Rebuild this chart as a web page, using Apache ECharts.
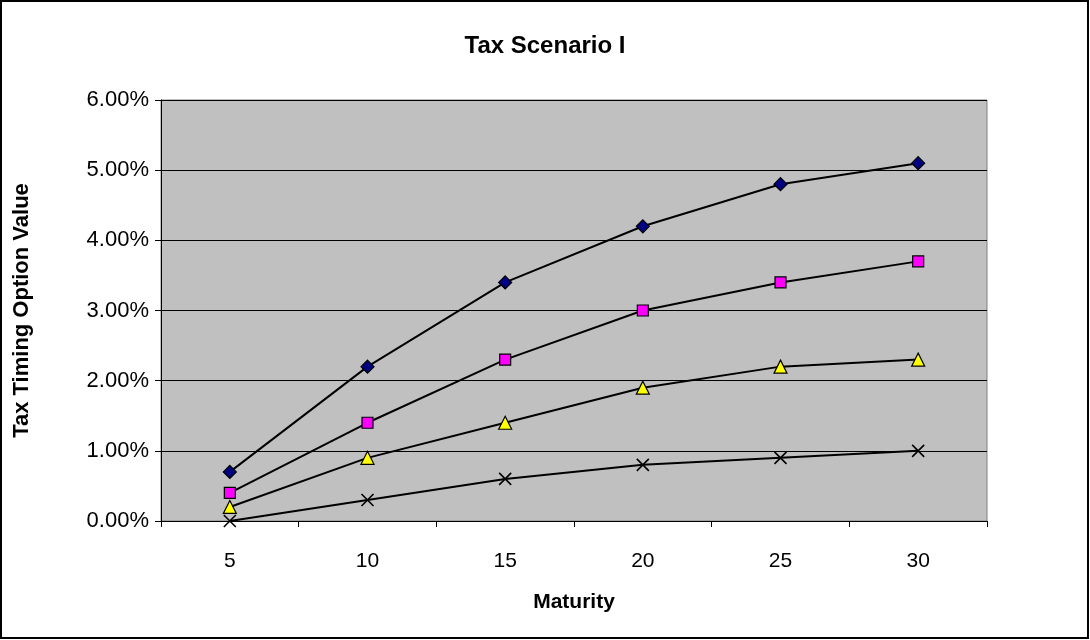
<!DOCTYPE html>
<html lang="en">
<head>
    <meta charset="UTF-8">
    <title>Tax Scenario I</title>
    <script src="https://cdn.jsdelivr.net/npm/echarts/dist/echarts.min.js"></script>
    <style>
        body { margin: 0; background: #fff; }
        #chart { width: 1090px; height: 640px; }
    </style>
</head>
<body>
    <div id="chart"></div>
    <script>
        // Data (values in percent)
        var maturities = ['5', '10', '15', '20', '25', '30'];
        var seriesDiamond = [0.7, 2.2, 3.4, 4.2, 4.8, 5.1];
        var seriesSquare = [0.4, 1.4, 2.3, 3.0, 3.4, 3.7];
        var seriesTriangle = [0.2, 0.9, 1.4, 1.9, 2.2, 2.3];
        var seriesCross = [0.0, 0.3, 0.6, 0.8, 0.9, 1.0];

        var font = 'Liberation Sans, Arial, sans-serif';
        var myChart = echarts.init(document.getElementById('chart'));

        function lineSeries(data, symbol, size, fill) {
            return {
                type: 'line',
                data: data,
                symbol: symbol,
                symbolSize: size,
                showAllSymbol: true,
                animation: false,
                lineStyle: { color: '#000', width: 2 },
                itemStyle: { color: fill, borderColor: '#000', borderWidth: 1.2 }
            };
        }

        var crossSeries = lineSeries(seriesCross, 'path://M0,0L10,10M10,0L0,10', 12, 'transparent');
        crossSeries.itemStyle.borderWidth = 1.6;

        var option = {
            backgroundColor: '#fff',
            title: {
                text: 'Tax Scenario I',
                left: 'center',
                top: 29,
                textStyle: { fontFamily: font, fontSize: 24, fontWeight: 'bold', color: '#000' }
            },
            graphic: [{
                type: 'rect',
                shape: { x: 1, y: 1, width: 1087, height: 637 },
                style: { fill: 'none', stroke: '#000', lineWidth: 2 }
            }],
            grid: {
                left: 161,
                right: 103,
                top: 100,
                bottom: 119,
                show: true,
                backgroundColor: '#c0c0c0',
                borderColor: '#808080',
                borderWidth: 1
            },
            xAxis: {
                type: 'category',
                data: maturities,
                boundaryGap: true,
                name: 'Maturity',
                nameLocation: 'middle',
                nameGap: 71,
                nameTextStyle: { fontFamily: font, fontSize: 21, fontWeight: 'bold', color: '#000' },
                axisLine: { lineStyle: { color: '#000', width: 1 } },
                axisTick: { show: true, length: 6, lineStyle: { color: '#000' } },
                axisLabel: { fontFamily: font, fontSize: 21, color: '#000', margin: 30 },
                splitLine: { show: false }
            },
            yAxis: {
                type: 'value',
                min: 0,
                max: 6,
                interval: 1,
                name: 'Tax Timing Option Value',
                nameLocation: 'middle',
                nameGap: 128,
                nameTextStyle: { fontFamily: font, fontSize: 22, fontWeight: 'bold', color: '#000' },
                axisLine: { show: true, lineStyle: { color: '#000', width: 1 } },
                axisTick: { show: true, length: 6, lineStyle: { color: '#000' } },
                axisLabel: {
                    fontFamily: font, fontSize: 22, color: '#000', margin: 12,
                    formatter: function (v) { return v.toFixed(2) + '%'; }
                },
                splitLine: { show: true, lineStyle: { color: '#000', width: 1 } }
            },
            series: [
                lineSeries(seriesDiamond, 'diamond', 13, '#000080'),
                lineSeries(seriesSquare, 'rect', 11, '#ff00ff'),
                lineSeries(seriesTriangle, 'triangle', 13, '#ffff00'),
                crossSeries
            ]
        };

        myChart.setOption(option);
    </script>
</body>
</html>
